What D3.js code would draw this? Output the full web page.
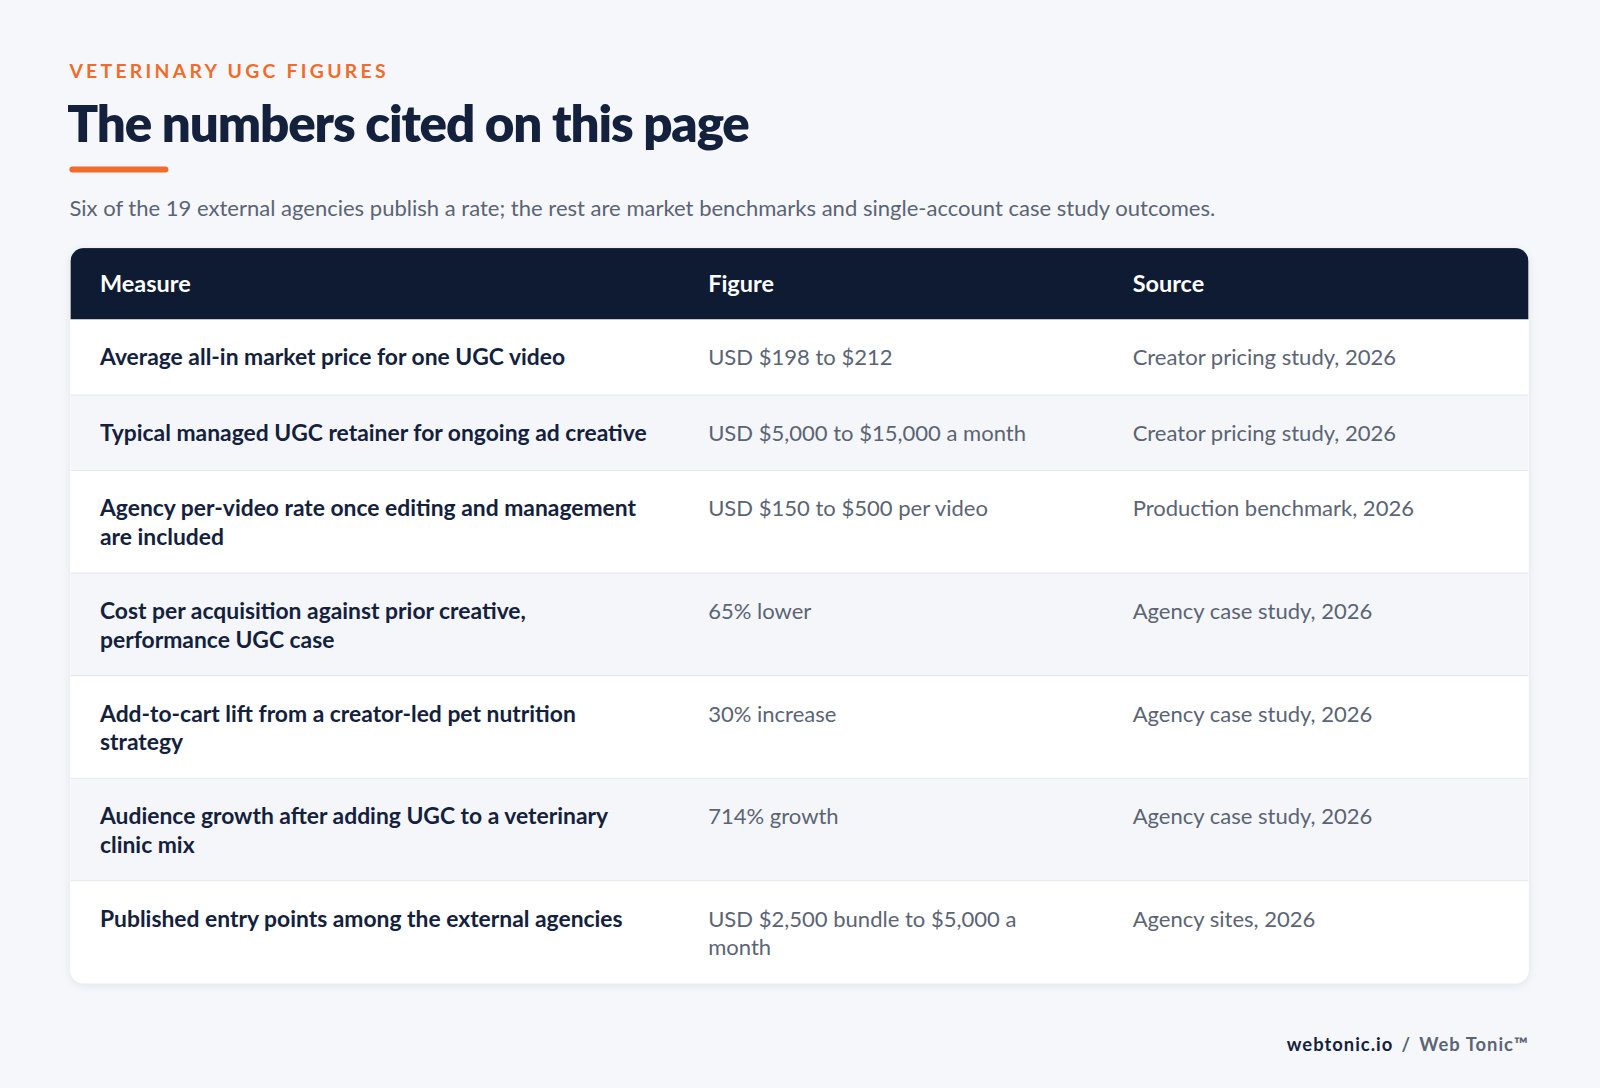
<!DOCTYPE html>
<html><head><meta charset="utf-8">
<script src="https://cdn.jsdelivr.net/npm/d3@7"></script>
<style>body{margin:0;background:#f5f7fa;}svg{display:block;font-family:Lato,"Noto Sans",sans-serif;}</style>
</head><body><svg id="c" width="1600" height="1088" viewBox="0 0 1568 1066"></svg>
<script>
const eyebrow = "VETERINARY UGC FIGURES";
const title = "The numbers cited on this page";
const subtitle = "Six of the 19 external agencies publish a rate; the rest are market benchmarks and single-account case study outcomes.";
const headers = ["Measure", "Figure", "Source"];
const measures = [
  "Average all-in market price for one UGC video",
  "Typical managed UGC retainer for ongoing ad creative",
  "Agency per-video rate once editing and management are included",
  "Cost per acquisition against prior creative, performance UGC case",
  "Add-to-cart lift from a creator-led pet nutrition strategy",
  "Audience growth after adding UGC to a veterinary clinic mix",
  "Published entry points among the external agencies"
];
const figures = [
  "USD $198 to $212",
  "USD $5,000 to $15,000 a month",
  "USD $150 to $500 per video",
  "65% lower",
  "30% increase",
  "714% growth",
  "USD $2,500 bundle to $5,000 a month"
];
const sources = [
  "Creator pricing study, 2026",
  "Creator pricing study, 2026",
  "Production benchmark, 2026",
  "Agency case study, 2026",
  "Agency case study, 2026",
  "Agency case study, 2026",
  "Agency sites, 2026"
];

const svg = d3.select("#c");
svg.append("rect").attr("width",1568).attr("height",1066).attr("fill","#f5f7fa");
svg.append("text").attr("x",68).attr("y",76).attr("fill","#f26b2a").attr("font-size",19).attr("font-weight",700).attr("letter-spacing",3.2).text(eyebrow);
svg.append("text").attr("x",66).attr("y",139).attr("fill","#14213d").attr("font-size",50).attr("font-weight",800).attr("letter-spacing",-1.1).text(title);
svg.append("rect").attr("x",68).attr("y",163).attr("width",97).attr("height",6).attr("rx",3).attr("fill","#f26b2a");
svg.append("text").attr("x",68).attr("y",212).attr("fill","#5b6474").attr("font-size",21.6).text(subtitle);

const X0=69, X1=1498, TOP=243, HEAD=70;
const cols=[98,694,1110], widths=[545,320,360];
const MS=22.4, FS=21.6;
function wrap(str, size, weight, maxW){
  const t=svg.append("text").attr("font-size",size).attr("font-weight",weight);
  const words=str.split(" "); const lines=[]; let cur="";
  for(const w of words){const test=cur?cur+" "+w:w; t.text(test);
    if(t.node().getComputedTextLength()>maxW && cur){lines.push(cur);cur=w;} else cur=test;}
  lines.push(cur); t.remove(); return lines;
}
const rows = measures.map((m,i)=>{
  const cells=[wrap(m,MS,700,widths[0]),wrap(figures[i],FS,400,widths[1]),wrap(sources[i],FS,400,widths[2])];
  const n=d3.max(cells,c=>c.length);
  return {cells,h: n>1?100.5:74};
});
let y=TOP+HEAD; rows.forEach(r=>{r.y=y;y+=r.h;});
const bottom=y;
const defs=svg.append("defs");
defs.append("clipPath").attr("id","clip").append("rect").attr("x",X0).attr("y",TOP).attr("width",X1-X0).attr("height",bottom-TOP).attr("rx",13);
defs.append("filter").attr("id","sh").append("feDropShadow").attr("dx",0).attr("dy",2).attr("stdDeviation",4).attr("flood-color","#0f1b33").attr("flood-opacity",0.08);
svg.append("rect").attr("x",X0).attr("y",TOP).attr("width",X1-X0).attr("height",bottom-TOP).attr("rx",13).attr("fill","#fff").attr("filter","url(#sh)");
const g=svg.append("g").attr("clip-path","url(#clip)");
g.append("rect").attr("x",X0).attr("y",TOP).attr("width",X1-X0).attr("height",HEAD).attr("fill","#0e1b33");
headers.forEach((h,j)=>g.append("text").attr("x",cols[j]).attr("y",TOP+HEAD/2+8).attr("fill","#fff").attr("font-size",23).attr("font-weight",700).text(h));
rows.forEach((r,i)=>{
  g.append("rect").attr("x",X0).attr("y",r.y).attr("width",X1-X0).attr("height",r.h).attr("fill",i%2?"#f4f6f9":"#ffffff");
  if(i>0) g.append("line").attr("x1",X0).attr("x2",X1).attr("y1",r.y).attr("y2",r.y).attr("stroke","#e3e7ee");
  r.cells.forEach((lines,j)=>{
    const t=g.append("text").attr("x",cols[j]).attr("y",r.y+45).attr("font-size",j?FS:MS).attr("font-weight",j?400:700).attr("fill",j?"#5b6474":"#14213d");
    lines.forEach((l,k)=>t.append("tspan").attr("x",cols[j]).attr("dy",k?28:0).text(l));
  });
});
const f=svg.append("text").attr("x",1498).attr("y",1030).attr("text-anchor","end").attr("font-size",18).attr("font-weight",700).attr("letter-spacing",1);
f.append("tspan").attr("fill","#14213d").text("webtonic.io");
f.append("tspan").attr("fill","#5b6474").attr("dx",8).text("/");
f.append("tspan").attr("fill","#5b6474").attr("dx",8).text("Web Tonic™");
</script></body></html>
